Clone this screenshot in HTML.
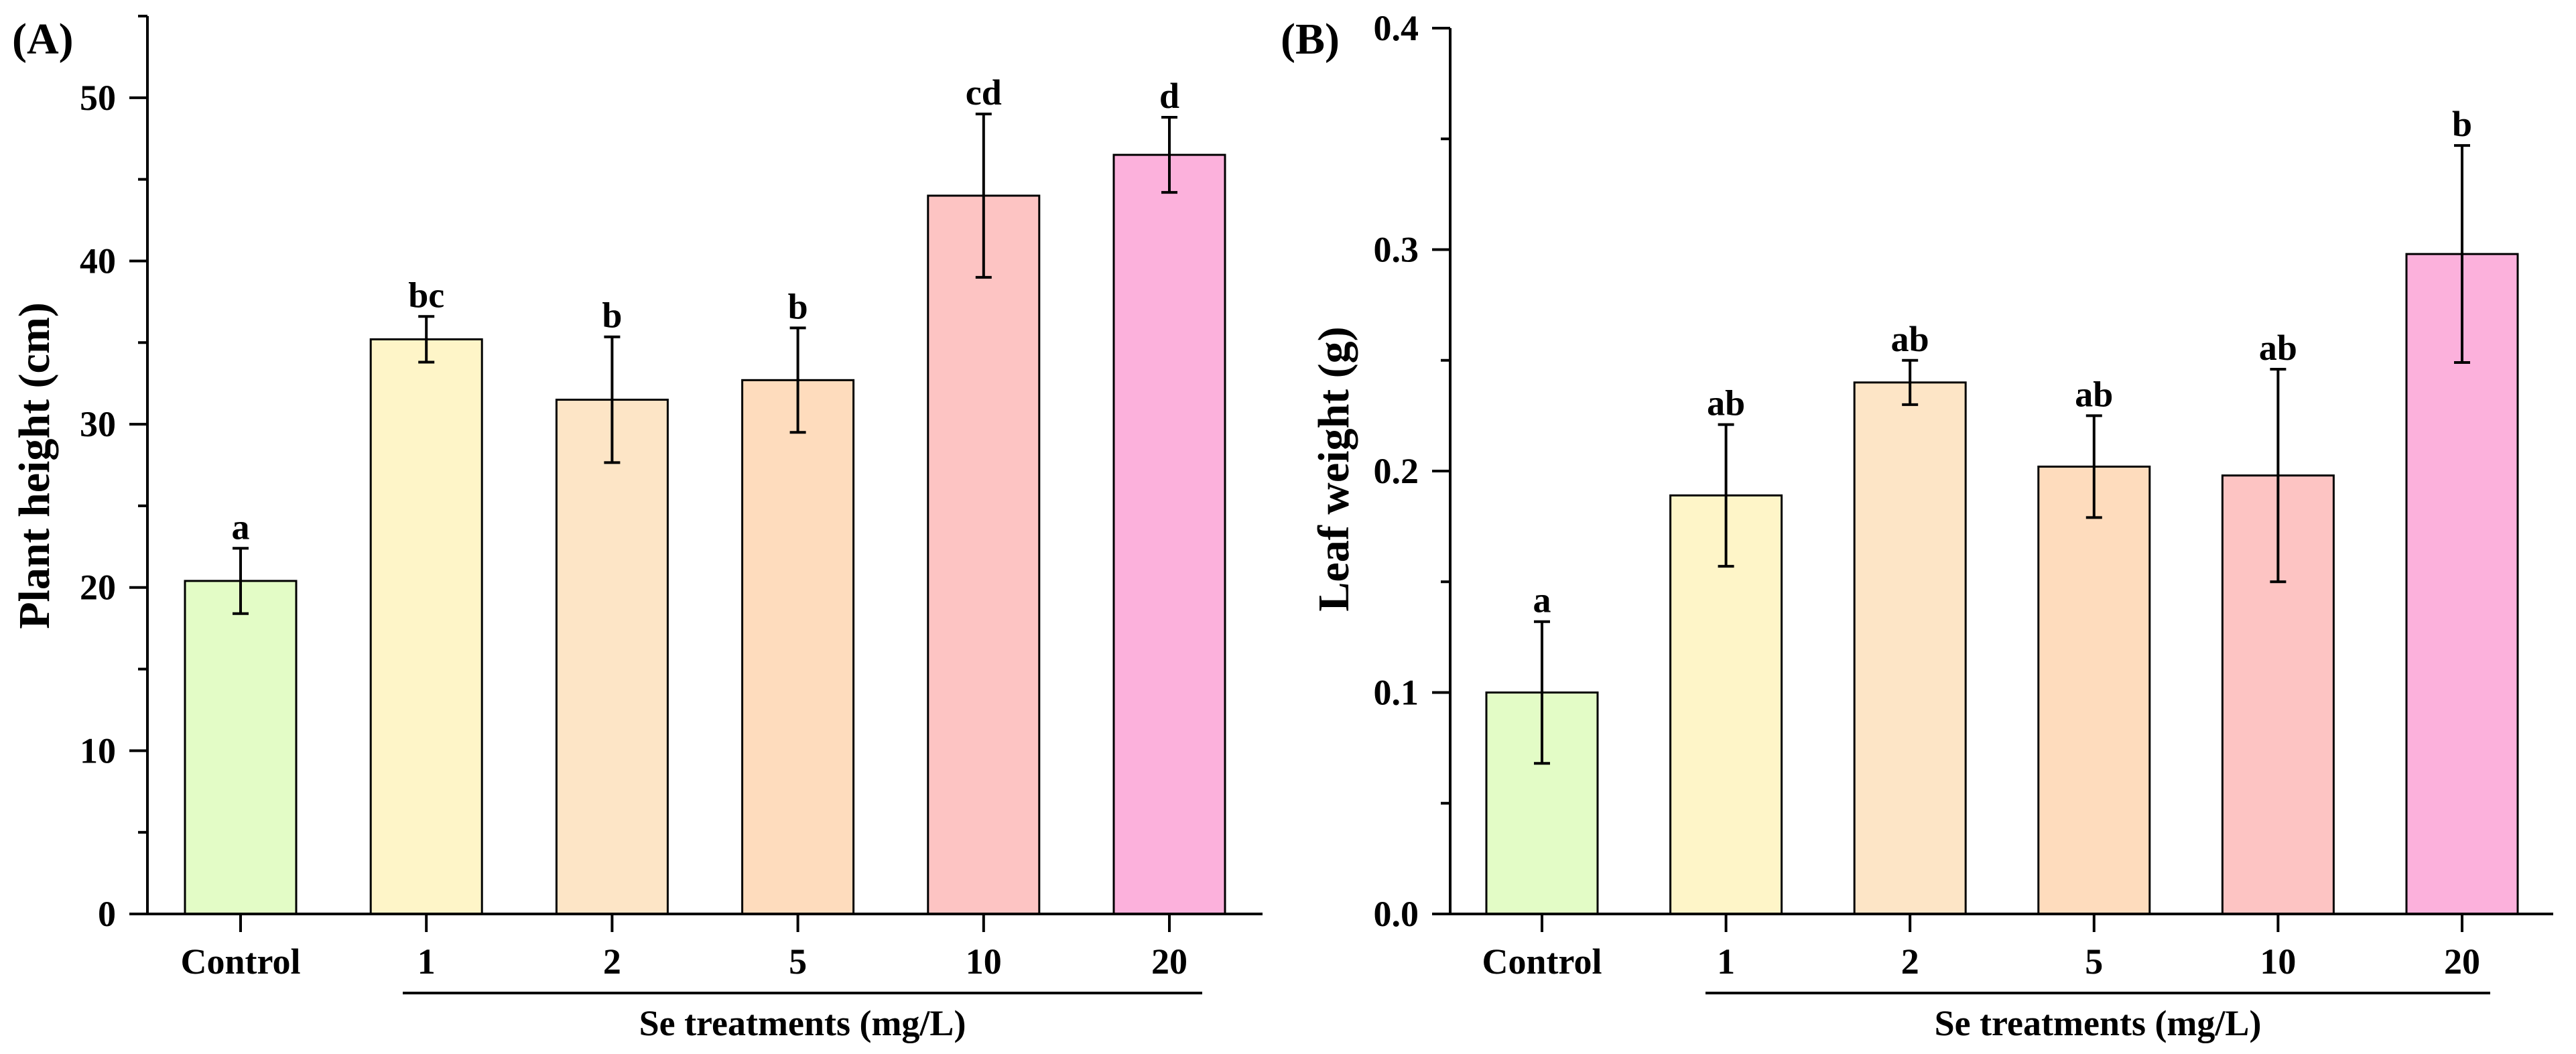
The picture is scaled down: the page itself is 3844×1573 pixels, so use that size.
<!DOCTYPE html>
<html><head><meta charset="utf-8">
<style>
html,body{margin:0;padding:0;background:#fff;}
svg{display:block;}
text{font-family:"Liberation Serif",serif;font-weight:bold;fill:#000;}
</style></head>
<body>
<svg id="chart" width="3844" height="1573" viewBox="0 0 3844 1573" xmlns="http://www.w3.org/2000/svg"></svg>
<script>
const categories = ["Control","1","2","5","10","20"];
const colors = ["#e3fcc6","#fef5c8","#fde5c6","#fedcbd","#fdc4c3","#fcb1dc"];
const heightValues = [20.4, 35.2, 31.5, 32.7, 44.0, 46.5];
const heightErrors = [2.0, 1.4, 3.85, 3.2, 5.0, 2.3];
const heightLetters = ["a","bc","b","b","cd","d"];
const heightTicks = [0,10,20,30,40,50];
const weightValues = [0.100, 0.189, 0.240, 0.202, 0.198, 0.298];
const weightErrors = [0.032, 0.032, 0.010, 0.023, 0.048, 0.049];
const weightLetters = ["a","ab","ab","ab","ab","b"];
const weightTicks = [0.0,0.1,0.2,0.3,0.4];

const NS = "http://www.w3.org/2000/svg";
const svg = document.getElementById("chart");
function el(tag, attrs, parent, txt){
  const e = document.createElementNS(NS, tag);
  for (const k in attrs) e.setAttribute(k, attrs[k]);
  if (txt !== undefined) e.textContent = txt;
  (parent || svg).appendChild(e);
  return e;
}

function panel(cfg){
  const g = el("g", {});
  
  
  const y = v => cfg.y0 - (v - cfg.vmin) / (cfg.vmax - cfg.vmin) * (cfg.y0 - cfg.yTop);
  const x = i => cfg.c0 + i * cfg.step;
  // bars
  cfg.values.forEach((v, i) => {
    const r = el("rect", {x: x(i) - cfg.bw/2, y: y(v), width: cfg.bw, height: cfg.y0 - y(v), fill: colors[i], stroke: "#000", "stroke-width": 3}, g);
    
    
    const hi = y(v + cfg.errors[i]), lo = y(v - cfg.errors[i]);
    const eb = el("path", {d: `M${x(i)},${hi}V${lo}M${x(i)-12},${hi}H${x(i)+12}M${x(i)-12},${lo}H${x(i)+12}`, stroke: "#000", "stroke-width": 4, fill: "none"}, g);
    
    
    const t = el("text", {x: x(i), y: hi - 14, "text-anchor": "middle", "font-size": 54}, g, cfg.letters[i]);
    
    
    const tk = el("line", {x1: x(i), x2: x(i), y1: cfg.y0, y2: cfg.y0 + 27, stroke: "#000", "stroke-width": 4}, g);
    
    
    const tl = el("text", {x: x(i), y: 1453, "text-anchor": "middle", "font-size": 54}, g, categories[i]);
    
    
  });
  // axes
  const ax = el("path", {d: `M${cfg.ax},${cfg.yTop}V${cfg.y0}M${cfg.xStart},${cfg.y0}H${cfg.xEnd}`, stroke: "#000", "stroke-width": 4, fill: "none"}, g);
  
  
  cfg.ticks.forEach(v => {
    const l = el("line", {x1: cfg.ax - 27, x2: cfg.ax, y1: y(v), y2: y(v), stroke: "#000", "stroke-width": 4}, g);
    
    
    const t = el("text", {x: cfg.ax - 47, y: y(v) + 18, "text-anchor": "end", "font-size": 54}, g, cfg.fmt(v));
    
    
  });
  for (let k = 0; k < cfg.ticks.length; k++){
    const mv = cfg.ticks[k] + cfg.minor;
    if (mv > cfg.vmax + 1e-9) break;
    const l = el("line", {x1: cfg.ax - 14, x2: cfg.ax, y1: y(mv), y2: y(mv), stroke: "#000", "stroke-width": 4}, g);
    
    
  }
  const yt = el("text", {x: 0, y: 0, "text-anchor": "middle", "font-size": 66, transform: `translate(${cfg.titleX},${cfg.titleY}) rotate(-90)`}, g, cfg.title);
  
  
  const ul = el("line", {x1: cfg.ulStart, x2: cfg.ulEnd, y1: 1482, y2: 1482, stroke: "#000", "stroke-width": 4}, g);
  
  
  const xt = el("text", {x: (cfg.ulStart + cfg.ulEnd)/2, y: 1545, "text-anchor": "middle", "font-size": 54}, g, "Se treatments (mg/L)");
  
  
  const pl = el("text", {x: cfg.labelX, y: 80, "font-size": 66}, g, cfg.label);
  
  
}

panel({name:"panel-a-plant-height", values:heightValues, errors:heightErrors, letters:heightLetters, ticks:heightTicks,
  vmin:0, vmax:55, minor:5, y0:1364, yTop:24, ax:220, xStart:194, xEnd:1884, c0:359, step:277.2, bw:166,
  fmt:v=>String(v), title:"Plant height (cm)", titleX:73, titleY:695, ulStart:601, ulEnd:1794, label:"(A)", labelX:18});
panel({name:"panel-b-leaf-weight", values:weightValues, errors:weightErrors, letters:weightLetters, ticks:weightTicks,
  vmin:0, vmax:0.4, minor:0.05, y0:1364, yTop:42, ax:2164, xStart:2140, xEnd:3810, c0:2301, step:274.6, bw:166,
  fmt:v=>v.toFixed(1), title:"Leaf weight (g)", titleX:2012, titleY:700, ulStart:2545, ulEnd:3716, label:"(B)", labelX:1911});
</script>
</body></html>
